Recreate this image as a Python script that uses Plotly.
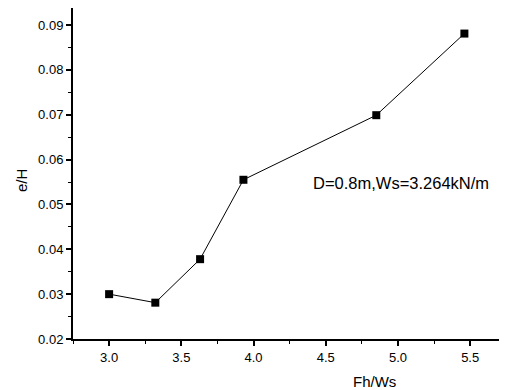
import plotly.graph_objects as go

fh_ws = [3.0, 3.32, 3.63, 3.93, 4.85, 5.46]
e_h = [0.0300, 0.0281, 0.0378, 0.0555, 0.0699, 0.0881]
x_ticks = [3.0, 3.5, 4.0, 4.5, 5.0, 5.5]
y_ticks = [0.02, 0.03, 0.04, 0.05, 0.06, 0.07, 0.08, 0.09]

FAM = "Liberation Sans, Arial, sans-serif"

fig = go.Figure()
fig.add_trace(go.Scatter(
    x=fh_ws, y=e_h, mode="lines+markers",
    line=dict(color="black", width=1),
    marker=dict(symbol="square", size=8, color="black"),
    showlegend=False,
))

# page body has an 8px margin; figure is sized/offset to compensate
fig.update_layout(
    width=499, height=382,
    margin=dict(l=65, r=0, t=0, b=51),
    paper_bgcolor="white", plot_bgcolor="white",
    font=dict(family=FAM, size=13, color="black"),
    annotations=[
        dict(x=0.755, y=0.47, xref="paper", yref="paper",
             xanchor="center", yanchor="middle",
             text="D=0.8m,Ws=3.264kN/m", showarrow=False,
             font=dict(family=FAM, size=16.5, color="black")),
        dict(x=0.694, y=-0.127, xref="paper", yref="paper",
             xanchor="center", yanchor="middle",
             text="Fh/Ws", showarrow=False,
             font=dict(family=FAM, size=15, color="black")),
        dict(x=-0.120, y=0.48, xref="paper", yref="paper",
             xanchor="center", yanchor="middle",
             text="e/H", showarrow=False, textangle=-90,
             font=dict(family=FAM, size=15, color="black")),
    ],
)
fig.update_xaxes(
    range=[2.75, 5.755], tickvals=x_ticks, ticktext=[f"{v:.1f}" for v in x_ticks],
    automargin=False,
    showline=True, linecolor="black", linewidth=2, showgrid=False, zeroline=False,
    ticks="outside", ticklen=5, tickwidth=1.5, tickcolor="black",
    tickfont=dict(family=FAM, size=13, color="black"),
    minor=dict(dtick=0.25, tick0=2.75, ticks="outside", ticklen=3, tickwidth=1, tickcolor="black", showgrid=False),
)
fig.update_yaxes(
    range=[0.02, 0.0938], tickvals=y_ticks, ticktext=[f"{v:.2f}" for v in y_ticks],
    automargin=False,
    showline=True, linecolor="black", linewidth=2, showgrid=False, zeroline=False,
    ticks="outside", ticklen=5, tickwidth=1.5, tickcolor="black",
    tickfont=dict(family=FAM, size=13, color="black"),
    minor=dict(dtick=0.005, tick0=0.02, ticks="outside", ticklen=3, tickwidth=1, tickcolor="black", showgrid=False),
)
fig.write_html("out.html")
